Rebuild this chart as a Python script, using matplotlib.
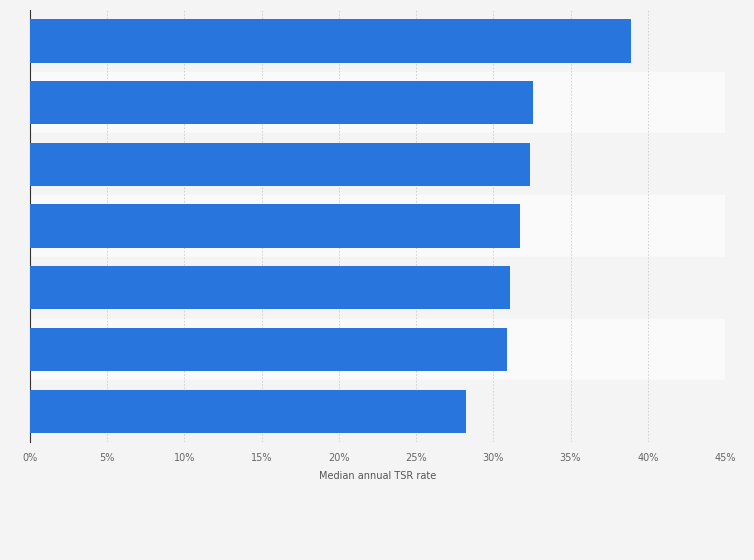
import matplotlib.pyplot as plt
import numpy as np

values = [38.9, 32.6, 32.4, 31.7, 31.1, 30.9, 28.2]
ticks = [0, 5, 10, 15, 20, 25, 30, 35, 40, 45]
tick_labels = [f"{t}%" for t in ticks]

fig = plt.figure(figsize=(7.54, 5.6), dpi=100)
fig.patch.set_facecolor("#f4f4f4")
ax = fig.add_axes([0.0398, 0.2107, 0.9217, 0.7713])
ax.set_facecolor("#f4f4f4")

n = len(values)
y = np.arange(n)[::-1]
for i, yy in enumerate(y):
    ax.axhspan(yy - 0.5, yy + 0.5, color="#f4f4f4" if i % 2 == 0 else "#fafafa", zorder=0)

ax.barh(y, values, height=0.7, color="#2876dd", zorder=3)
ax.set_xlim(0, 45)
ax.set_ylim(-0.5, n - 0.5)
ax.set_xticks(ticks)
ax.set_xticklabels(tick_labels, fontsize=7, color="#666666")
ax.set_yticks([])
ax.tick_params(axis="x", length=0, pad=8)
ax.grid(axis="x", color="#cccccc", linestyle=(0, (2, 2)), linewidth=0.6, zorder=1)
for s in ["top", "right", "bottom"]:
    ax.spines[s].set_visible(False)
ax.spines["left"].set_color("#333333")
ax.spines["left"].set_linewidth(0.8)
ax.set_xlabel("Median annual TSR rate", fontsize=7, color="#555555", labelpad=6)

fig.savefig("out.png", dpi=100, facecolor=fig.get_facecolor())
